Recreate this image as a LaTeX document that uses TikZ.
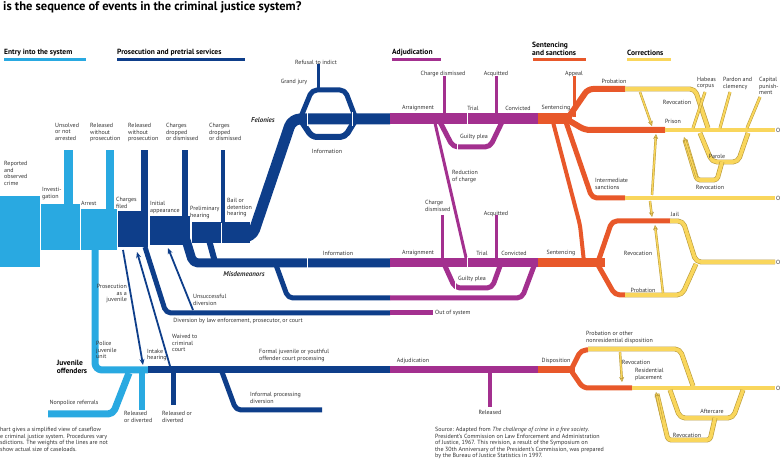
\documentclass[tikz,border=0pt]{standalone}
\usepackage{fontspec}
\setmainfont{PT Sans}
\usetikzlibrary{arrows.meta}
\definecolor{lb}{HTML}{29A9E1}
\definecolor{db}{HTML}{0E3E8A}
\definecolor{pu}{HTML}{A3308F}
\definecolor{orr}{HTML}{E8582A}
\definecolor{ye}{HTML}{F9D65C}
\definecolor{yd}{HTML}{B99A3A}
\definecolor{tx}{HTML}{333333}
\begin{document}
\begin{tikzpicture}[x=1pt,y=-1pt,line join=round,
  L/.style={font=\fontsize{6}{6.6}\selectfont,text=tx,inner sep=0pt,align=left},
  LN/.style={L,anchor=north west},
  H/.style={font=\fontsize{7.5}{8}\selectfont\bfseries,text=black,inner sep=0pt,anchor=south west,align=left},
  f/.style={draw=#1,line width=5pt,rounded corners=5pt},
  yl/.style={draw=yd,line width=.6pt,double=ye,double distance=3.6pt,rounded corners=5pt},
  ya/.style={draw=yd,line width=.5pt,double=ye,double distance=1.4pt,-{Stealth[length=5pt,width=5pt,fill=ye]}},
  da/.style={draw=db,line width=1.8pt,-{Stealth[length=6pt,width=5pt]}}]
\useasboundingbox (0,0) rectangle (780,470);
\fill[white] (0,0) rectangle (780,470);
\node[anchor=north west,inner sep=0pt,font=\fontsize{12.5}{13}\selectfont\bfseries] (title) at (3,1) {is the sequence of events in the criminal justice system?};
% headers
\node[H] (h1) at (4,56) {Entry into the system};
\node[H] (h2) at (117,56) {Prosecution and pretrial services};
\node[H] (h3) at (392,56) {Adjudication};
\node[H] (h4) at (532,56) {Sentencing\\and sanctions};
\node[H] (h5) at (627,56) {Corrections};
\draw[lb,line width=3pt] (4,60)--(86,60);
\draw[db,line width=3pt] (117,60)--(245,60);
\draw[pu,line width=3pt] (392,60)--(441,60);
\draw[orr,line width=3pt] (533,60)--(586,60);
\draw[ye,line width=3pt] (627,60)--(671,60);
% light blue
\fill[lb] (0,196) rectangle (40,267);
\fill[lb] (41,204) rectangle (80,250);
\fill[lb] (81,209) rectangle (117,250);
\fill[lb] (64,150) rectangle (73,205);
\fill[lb] (106,150) rectangle (114,210);
\draw[f=lb,line width=7pt,rounded corners=7pt] (95,249)--(95,370)--(148,370);
\draw[f=lb,line width=7pt] (48,414)--(113,414)--(129,373);
\draw[f=lb,line width=6pt] (142,372)--(142,410);
% dark blue
\fill[db] (118,211) rectangle (148,247);
\fill[db] (141,150) rectangle (148,212);
\fill[db] (150,216) rectangle (190,245);
\fill[db] (182,150) rectangle (188,217);
\fill[db] (192,222) rectangle (221,243);
\fill[db] (221,150) rectangle (225,223);
\fill[db] (222,222) rectangle (250,243);
\draw[f=db,line width=11pt,rounded corners=8pt] (222,237)--(252,237)--(292,119)--(390,119);
\draw[f=db,line width=5pt] (300,119)--(312,90)--(345,90)--(356,119);
\draw[f=db,line width=6pt] (300,119)--(312,137)--(345,137)--(356,119);
\draw[db,line width=3pt] (318,64)--(318,90);
\draw[f=db,line width=9pt] (186,240)--(193,263)--(390,263);
\draw[f=db,line width=6pt] (209,240)--(215,262);
\draw[f=db] (276,265)--(288,298)--(390,298);
\draw[f=db] (145,247)--(166,313)--(390,313);
\draw[da] (123,250)--(143,365);
\draw[da] (170,366)--(137,252);
\draw[da] (193,310)--(168,248);
\draw[f=db,line width=7pt] (148,370)--(390,370);
\draw[db,line width=5pt] (173,372)--(173,405);
\draw[f=db] (222,372)--(236,410)--(322,410);
% white separators
\foreach \x in {307,352} \draw[white,line width=1pt] (\x,112)--(\x,126);
\draw[white,line width=1pt] (307,257)--(307,269);
% purple
\draw[pu,line width=11pt] (390,119)--(538,119);
\draw[pu,line width=3pt] (444,76)--(444,117);
\draw[pu,line width=3pt] (496,76)--(496,117);
\draw[f=pu] (440,122)--(453,147)--(490,147)--(502,122);
\draw[pu,line width=3pt] (435,123)--(467,262);
\draw[pu,line width=9pt] (390,263)--(538,263);
\draw[pu,line width=3pt] (442,215)--(442,260);
\draw[pu,line width=3pt] (496,215)--(496,260);
\draw[f=pu] (445,266)--(455,288)--(492,288)--(500,266);
\draw[f=pu] (390,298)--(522,298)--(534,266);
\draw[pu,line width=5pt] (390,313)--(433,313);
\draw[pu,line width=7pt] (390,370)--(538,370);
\draw[pu,line width=4pt] (490,372)--(490,407);
\foreach \x/\y in {467/119,457/147,467/263,455/288} \draw[white,line width=1pt] (\x,\y-6)--(\x,\y+6);
% orange
\draw[orr,line width=11pt] (538,119)--(572,119);
\draw[orr,line width=3pt] (574,76)--(574,117);
\draw[f=orr,line width=6pt] (568,118)--(588,89)--(625,89);
\draw[f=orr,line width=6pt] (568,120)--(585,130)--(665,130);
\draw[f=orr] (566,122)--(592,198)--(625,198);
\draw[f=orr,line width=4pt] (553,122)--(580,225)--(584,262);
\draw[orr,line width=9pt] (538,263)--(605,263);
\draw[f=orr] (598,262)--(612,221)--(670,221);
\draw[f=orr] (598,265)--(615,295)--(625,295);
\draw[orr,line width=7pt] (538,370)--(575,370);
\draw[f=orr] (572,368)--(581,350)--(588,350);
\draw[f=orr] (572,372)--(583,388)--(632,388);
% yellow
\draw[yl] (625,89)--(695,89)--(708,128);
\draw[yl] (665,130)--(775,130);
\draw[yl] (625,198)--(775,198);
\draw[yl] (670,221)--(683,221)--(696,262)--(775,262);
\draw[yl] (625,295)--(682,295)--(696,264);
\draw[yl] (700,133)--(712,162)--(738,162)--(748,133);
\draw[yl,rounded corners=3pt] (722,162)--(717,180)--(697,180)--(685,140);
\draw[ya] (697,178)--(684,137);
\draw[yl,line width=.5pt,double distance=2pt] (693,128)--(705,92);
\draw[yl,line width=.5pt,double distance=2pt] (720,128)--(730,92);
\draw[yl,line width=.5pt,double distance=2pt] (747,128)--(760,97);
\draw[ya] (640,92)--(652,126);
\draw[ya] (652,195)--(656,134);
\draw[ya] (650,201)--(652,217);
\draw[ya] (663,293)--(655,225);
\draw[yl] (588,349)--(680,349)--(693,386);
\draw[yl] (632,388)--(775,388);
\draw[yl] (670,390)--(680,418)--(733,418)--(743,390);
\draw[yl,rounded corners=3pt] (715,418)--(710,440)--(668,440)--(657,394);
\draw[ya] (662,420)--(656,392);
\draw[ya] (620,352)--(622,382);
% labels
\node[LN] (l1) at (55,123) {Unsolved\\or not\\arrested};
\node[LN] (l2) at (90,123) {Released\\without\\prosecution};
\node[LN] (l3) at (128,123) {Released\\without\\prosecution};
\node[LN] (l4) at (166,123) {Charges\\dropped\\or dismissed};
\node[LN] (l5) at (209,123) {Charges\\dropped\\or dismissed};
\node[LN] (l6) at (4,161) {Reported\\and\\observed\\crime};
\node[LN] (l7) at (42,187) {Investi-\\gation};
\node[LN] (l8) at (81,201) {Arrest};
\node[LN] (l9) at (116,197) {Charges\\filed};
\node[LN] (l10) at (150,201) {Initial\\appearance};
\node[LN] (l11) at (190,206) {Preliminary\\hearing};
\node[LN] (l12) at (227,198) {Bail or\\detention\\hearing};
\node[L] (l13) at (316,62) {Refusal to indict};
\node[L] (l14) at (294,82) {Grand jury};
\node[L] (l15) at (327,151) {Information};
\node[L,font=\fontsize{7}{8}\selectfont\bfseries\itshape] (l16) at (263,120) {Felonies};
\node[L] (l17) at (418,108) {Arraignment};
\node[L] (l18) at (443,74) {Charge dismissed};
\node[L] (l19) at (496,74) {Acquitted};
\node[L] (l20) at (473,108) {Trial};
\node[L] (l21) at (518,108) {Convicted};
\node[L] (l22) at (474,137) {Guilty plea};
\node[LN] (l23) at (452,170) {Reduction\\of charge};
\node[L] (l24) at (556,108) {Sentencing};
\node[L] (l25) at (574,74) {Appeal};
\node[L] (l26) at (614,81) {Probation};
\node[L] (l27) at (677,102) {Revocation};
\node[L] (l28) at (673,121) {Prison};
\node[LN] (l29) at (697,77) {Habeas\\corpus};
\node[LN] (l30) at (723,77) {Pardon and\\clemency};
\node[LN] (l31) at (759,77) {Capital\\punish-\\ment};
\node[L] (l32) at (717,156) {Parole};
\node[L] (l33) at (710,187) {Revocation};
\node[LN] (l34) at (595,178) {Intermediate\\sanctions};
\node[L] (l35) at (675,214) {Jail};
\node[LN] (l36) at (425,200) {Charge\\dismissed};
\node[L] (l37) at (496,214) {Acquitted};
\node[L] (l38) at (338,253) {Information};
\node[L,font=\fontsize{7}{8}\selectfont\bfseries\itshape] (l39) at (244,274) {Misdemeanors};
\node[L] (l40) at (418,253) {Arraignment};
\node[L] (l41) at (482,253) {Trial};
\node[L] (l42) at (514,253) {Convicted};
\node[L] (l43) at (561,253) {Sentencing};
\node[L] (l44) at (638,253) {Revocation};
\node[L] (l45) at (472,279) {Guilty plea};
\node[L] (l46) at (643,290) {Probation};
\node[L,anchor=west] (l47) at (435,313) {Out of system};
\node[LN] (l48) at (193,294) {Unsuccessful\\diversion};
\node[L] (l49) at (238,321) {Diversion by law enforcement, prosecutor, or court};
\node[L,anchor=north east,align=right] (l50) at (127,284) {Prosecution\\as a\\juvenile};
\node[LN] (l51) at (96,341) {Police\\juvenile\\unit};
\node[L,font=\fontsize{7.5}{8}\selectfont\bfseries,text=black] (l52) at (72,367) {Juvenile\\offenders};
\node[LN] (l53) at (147,349) {Intake\\hearing};
\node[LN] (l54) at (172,334) {Waived to\\criminal\\court};
\node[LN] (l55) at (259,349) {Formal juvenile or youthful\\offender court processing};
\node[L] (l56) at (74,403) {Nonpolice referrals};
\node[LN] (l57) at (124,411) {Released\\or diverted};
\node[LN] (l58) at (162,411) {Released or\\diverted};
\node[LN] (l59) at (250,392) {Informal processing\\diversion};
\node[L] (l60) at (413,361) {Adjudication};
\node[L] (l61) at (490,412) {Released};
\node[L] (l62) at (556,361) {Disposition};
\node[LN] (l63) at (586,331) {Probation or other\\nonresidential disposition};
\node[L] (l64) at (636,362) {Revocation};
\node[LN] (l65) at (635,368) {Residential\\placement};
\node[L] (l66) at (712,411) {Aftercare};
\node[L] (l67) at (687,435) {Revocation};
\foreach \yy/\n in {130/a,198/b,262/c,388/d} \node[L,anchor=west] (o\n) at (776,\yy) {O};
\node[LN] (n1) at (0,427) {hart gives a simplified view of caseflow\\e criminal justice system. Procedures vary\\sdictions. The weights of the lines are not\\ show actual size of caseloads.};
\node[LN] (n2) at (435,427) {Source: Adapted from \textit{The challenge of crime in a free society}.\\President's Commission on Law Enforcement and Administration\\of Justice, 1967. This revision, a result of the Symposium on\\the 30th Anniversary of the President's Commission, was prepared\\by the Bureau of Justice Statistics in 1997.};
\end{tikzpicture}
\end{document}
